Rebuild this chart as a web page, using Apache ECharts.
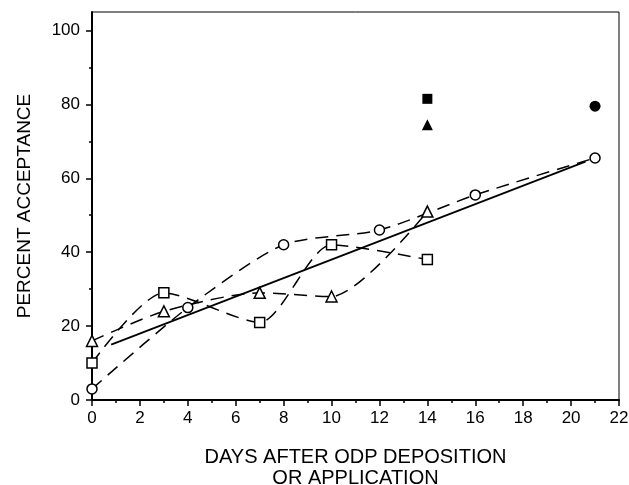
<!DOCTYPE html>
<html>
<head>
<meta charset="utf-8">
<style>
  html, body { margin: 0; padding: 0; background: #fff; }
  #chart { width: 629px; height: 485px; }
</style>
<script src="https://cdn.jsdelivr.net/npm/echarts@6/dist/echarts.min.js"></script>
</head>
<body>
<div id="chart"></div>
<script>
// Percent acceptance by days after ODP deposition or application
const circleDays = [0, 4, 8, 12, 16, 21];
const circleValues = [3, 25, 42, 46, 55.5, 65.5];

const squareDays = [0, 3, 7, 10, 14];
const squareValues = [10, 29, 21, 42, 38];

const triangleDays = [0, 3, 7, 10, 14];
const triangleValues = [16, 24, 29, 28, 51];

// solid filled markers
const filledSquare = [[14, 81.5]];
const filledTriangle = [[14, 74.5]];
const filledCircle = [[21, 79.5]];

// fitted regression line (end points)
const fitDays = [0.8, 20.6];
const fitValues = [15, 64.5];

const yMajorTicks = [0, 20, 40, 60, 80, 100];
const yMinorTicks = [10, 30, 50, 70, 90];

const zip = (xs, ys) => xs.map((x, i) => [x, ys[i]]);

const FONT = '"Liberation Sans", Arial, sans-serif';
const BLACK = '#000';

const openMarker = { color: '#fff', borderColor: BLACK, borderWidth: 1.5 };
const dashed = { color: BLACK, width: 1.5, type: [13, 8] };

function dashedSeries(days, values, symbol, size) {
  return {
    type: 'line',
    data: zip(days, values),
    smooth: 0.25,
    symbol: symbol,
    symbolSize: size,
    showAllSymbol: true,
    lineStyle: dashed,
    itemStyle: openMarker,
    z: 3
  };
}

function filledSeries(data, symbol, size) {
  return {
    type: 'scatter',
    data: data,
    symbol: symbol,
    symbolSize: size,
    itemStyle: { color: BLACK, opacity: 1 },
    z: 4
  };
}

const chart = echarts.init(document.getElementById('chart'), null, { renderer: 'canvas' });

chart.setOption({
  animation: false,
  backgroundColor: '#fff',
  grid: {
    left: 92, right: 10, top: 12, bottom: 85,
    containLabel: false,
    outerBoundsMode: 'none',
    show: true, borderColor: BLACK, borderWidth: 1, backgroundColor: 'transparent'
  },
  xAxis: {
    type: 'value',
    min: 0, max: 22, interval: 2,
    name: 'DAYS AFTER ODP DEPOSITION\nOR APPLICATION',
    nameLocation: 'middle',
    nameGap: 47,
    nameTextStyle: { fontFamily: FONT, fontSize: 20, color: BLACK, lineHeight: 21 },
    axisLine: { show: true, onZero: false, lineStyle: { color: BLACK, width: 2 } },
    axisTick: { show: true, inside: false, length: 6, lineStyle: { color: BLACK, width: 1.5 } },
    minorTick: { show: true, splitNumber: 2, length: 3, lineStyle: { color: BLACK, width: 1.5 } },
    splitLine: { show: false },
    axisLabel: { fontFamily: FONT, fontSize: 17, color: BLACK, margin: 10 }
  },
  yAxis: [
    {
      type: 'value',
      min: 0, max: 105,
      name: 'PERCENT ACCEPTANCE',
      nameLocation: 'middle',
      nameGap: 58,
      nameTextStyle: { fontFamily: FONT, fontSize: 19, color: BLACK },
      axisLine: { show: true, onZero: false, lineStyle: { color: BLACK, width: 2 } },
      axisTick: { show: true, length: 6, customValues: yMajorTicks, lineStyle: { color: BLACK, width: 1.5 } },
      axisLabel: { fontFamily: FONT, fontSize: 17, color: BLACK, margin: 12, customValues: yMajorTicks },
      splitLine: { show: false }
    },
    {
      type: 'value',
      min: 0, max: 105,
      position: 'left',
      axisLine: { show: false },
      axisTick: { show: true, length: 3, customValues: yMinorTicks, lineStyle: { color: BLACK, width: 1.5 } },
      axisLabel: { show: false },
      splitLine: { show: false }
    }
  ],
  series: [
    {
      type: 'line',
      data: zip(fitDays, fitValues),
      symbol: 'none',
      lineStyle: { color: BLACK, width: 1.8, type: 'solid' },
      z: 2
    },
    dashedSeries(circleDays, circleValues, 'circle', 10),
    dashedSeries(squareDays, squareValues, 'rect', 10),
    dashedSeries(triangleDays, triangleValues, 'triangle', 11),
    filledSeries(filledSquare, 'rect', 10),
    filledSeries(filledTriangle, 'triangle', 11),
    filledSeries(filledCircle, 'circle', 11)
  ]
});
</script>
</body>
</html>
